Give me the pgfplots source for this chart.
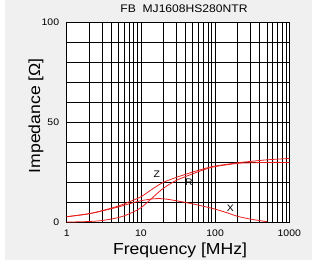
\documentclass[border=0pt]{standalone}
\usepackage{fontspec}
\setmainfont{Liberation Sans}[FakeStretch=1.1]
\usepackage{pgfplots}
\pgfplotsset{compat=1.18}
\definecolor{panel}{RGB}{240,240,240}
\definecolor{curve}{RGB}{235,30,30}
\begin{document}
\begin{tikzpicture}[x=1pt,y=1pt]
\useasboundingbox (0,0) rectangle (312,265);
\fill[white] (0,0) rectangle (312,265);
\fill[panel] (5,5) rectangle (312,265);
\begin{axis}[
  at={(66.7pt,42.7pt)}, anchor=south west,
  scale only axis, width=222.6pt, height=199.6pt,
  xmode=log, xmin=1, xmax=1000, ymin=0, ymax=100,
  axis background/.style={fill=white},
  axis line style={black, line width=0.8pt},
  xtick={1,10,100,1000}, xticklabels={1,10,100,1000},
  minor xtick={2,3,4,5,6,7,8,9,20,30,40,50,60,70,80,90,200,300,400,500,600,700,800,900},
  ytick={0,50,100}, yticklabels={0,50,100},
  minor ytick={10,20,30,40,60,70,80,90},
  grid=both,
  major grid style={black, line width=0.8pt},
  minor grid style={black, line width=0.8pt},
  major tick length=0pt, minor tick length=0pt,
  tick label style={font=\fontsize{9.5}{10}\selectfont, text=black},
  xticklabel style={anchor=base, yshift=-14.3pt, inner sep=0pt},
  yticklabel style={anchor=east, xshift=-7.4pt, inner sep=0pt},
  clip=true,
]
% Z
\addplot[curve, line width=0.8pt, smooth] coordinates {
 (1,2.8) (1.5,3.6) (2,4.3) (3,5.8) (5,8.2) (7,10.3) (10,12.8) (15,17.2) (20,20) (30,22.5) (50,25.2) (70,26.8) (100,28.2) (200,29.8) (300,30.5) (500,31.3) (1000,32)};
% R
\addplot[curve, line width=0.8pt, smooth] coordinates {
 (1,0.1) (2,0.4) (3,0.9) (5,2.4) (7,4.3) (10,7.3) (15,13) (20,17) (30,21) (50,24.3) (70,26.3) (100,27.9) (200,29.5) (300,29.8) (500,30) (1000,30)};
% X
\addplot[curve, line width=0.8pt, smooth] coordinates {
 (1,2.8) (2,4.3) (3,5.7) (5,7.7) (7,9.3) (10,10.8) (15,11.8) (20,11.8) (30,10.8) (50,9.2) (70,8) (100,6.6) (150,4.6) (200,3) (300,1.6) (500,0.3)};
\node[font=\fontsize{9.5}{10}\selectfont, inner sep=0pt] at (axis cs:16.4,24.3) {Z};
\node[font=\fontsize{9.5}{10}\selectfont, inner sep=0pt] at (axis cs:44.3,20.3) {R};
\node[font=\fontsize{9.5}{10}\selectfont, inner sep=0pt] at (axis cs:161,7.1) {X};
\end{axis}
\node[font=\fontsize{11}{12}\selectfont, inner sep=0pt, anchor=center] at (184,256) {FB\ \ MJ1608HS280NTR};
\node[font=\fontsize{16}{18}\selectfont, inner sep=0pt, anchor=center] at (180,14.3) {Frequency [MHz]};
\node[font=\fontsize{16}{18}\selectfont, inner sep=0pt, anchor=center, rotate=90] at (36,149.3) {Impedance [\symbol{"03A9}]};
\end{tikzpicture}
\end{document}
